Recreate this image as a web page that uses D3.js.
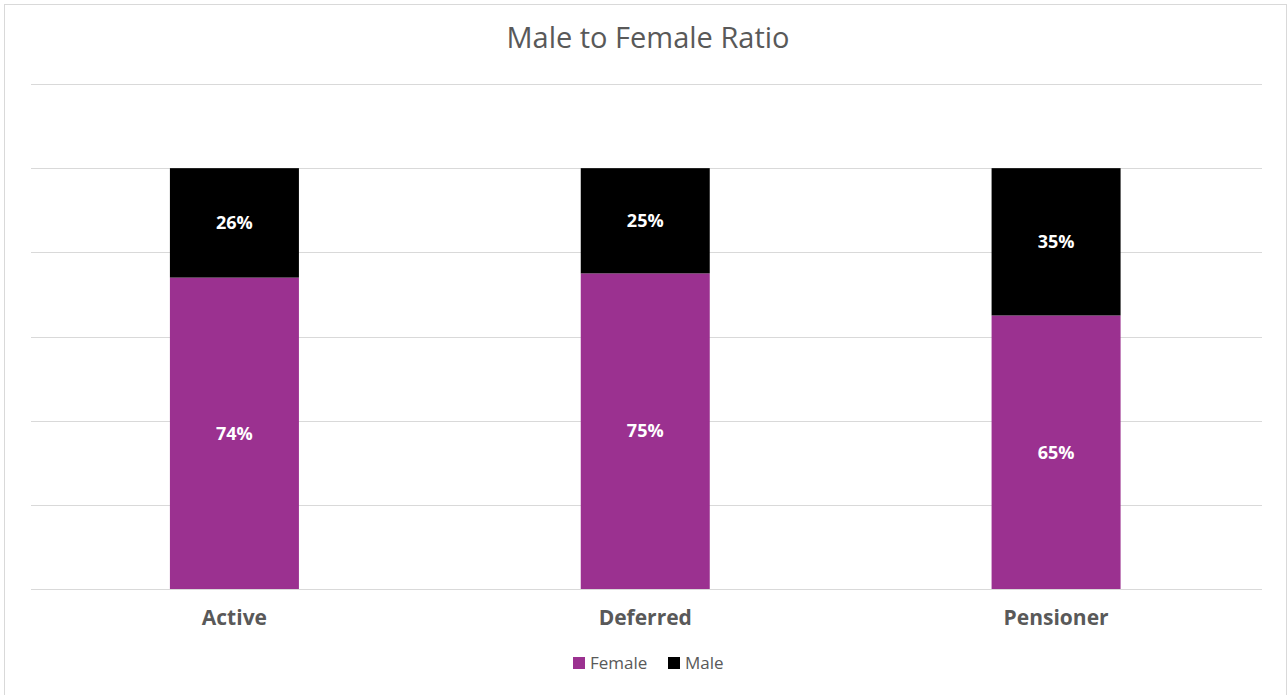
<!DOCTYPE html>
<html lang="en">
<head>
<meta charset="UTF-8">
<title>Male to Female Ratio</title>
<script src="https://cdn.jsdelivr.net/npm/d3@7"></script>
<style>
  body { margin: 0; background: #fff; font-family: "Open Sans", "Noto Sans", sans-serif; }
</style>
</head>
<body>
<div id="chart"></div>
<script>
const categories = ["Active", "Deferred", "Pensioner"];
const female = [0.74, 0.75, 0.65];
const male = [0.26, 0.25, 0.35];
const seriesNames = ["Female", "Male"];
const yTicks = [0, 0.2, 0.4, 0.6, 0.8, 1.0, 1.2];

const width = 1288, height = 695;
const margin = {top: 84, right: 26, bottom: 106, left: 31};
const colors = {Female: "#9b3190", Male: "#000000"};

const svg = d3.select("#chart").append("svg")
    .attr("width", width)
    .attr("height", height);

// outer border
svg.append("rect")
    .attr("x", 4.5).attr("y", 4.5)
    .attr("width", width - 6).attr("height", height)
    .attr("fill", "#fff")
    .attr("stroke", "#d9d9d9");

const x = d3.scaleBand()
    .domain(categories)
    .range([29, 1261.5])
    .paddingInner(0.686)
    .paddingOuter(0.343);

const y = d3.scaleLinear()
    .domain([0, 1.2])
    .range([height - margin.bottom, margin.top]);

// gridlines
svg.append("g")
    .selectAll("line")
    .data(yTicks)
    .join("line")
    .attr("x1", margin.left)
    .attr("x2", width - margin.right)
    .attr("y1", d => Math.round(y(d)) + 0.5)
    .attr("y2", d => Math.round(y(d)) + 0.5)
    .attr("stroke", "#d9d9d9")
    .attr("stroke-width", 1);

// stack the data
const rows = categories.map((c, i) => ({cat: c, Female: female[i], Male: male[i]}));
const stacked = d3.stack().keys(seriesNames)(rows);

const layers = svg.append("g")
    .selectAll("g")
    .data(stacked)
    .join("g")
    .attr("fill", d => colors[d.key]);

layers.selectAll("rect")
    .data(d => d)
    .join("rect")
    .attr("x", d => x(d.data.cat))
    .attr("width", x.bandwidth())
    .attr("y", d => y(d[1]))
    .attr("height", d => y(d[0]) - y(d[1]));

// data labels
layers.selectAll("text")
    .data(d => d)
    .join("text")
    .attr("x", d => x(d.data.cat) + x.bandwidth() / 2)
    .attr("y", d => (y(d[0]) + y(d[1])) / 2)
    .attr("dy", "0.35em")
    .attr("text-anchor", "middle")
    .attr("fill", "#fff")
    .attr("font-size", 18)
    .attr("font-weight", "bold")
    .text(d => Math.round((d[1] - d[0]) * 100) + "%");

// x axis labels
const xAxis = svg.append("g")
    .attr("transform", `translate(0,${height - margin.bottom})`)
    .call(d3.axisBottom(x).tickSize(0).tickPadding(21));
xAxis.select(".domain").remove();
xAxis.selectAll("text")
    .attr("font-family", "Open Sans, Noto Sans, sans-serif")
    .attr("font-size", 21)
    .attr("font-weight", "bold")
    .attr("fill", "#595959");

// title
svg.append("text")
    .attr("x", 648)
    .attr("y", 48)
    .attr("text-anchor", "middle")
    .attr("font-size", 29)
    .attr("fill", "#595959")
    .text("Male to Female Ratio");

// legend
const legend = svg.append("g").attr("transform", "translate(573,663)");
const legendX = [0, 95];
seriesNames.forEach((s, i) => {
    legend.append("rect")
        .attr("x", legendX[i])
        .attr("y", -6)
        .attr("width", 12)
        .attr("height", 12)
        .attr("fill", colors[s]);
    legend.append("text")
        .attr("x", legendX[i] + 17)
        .attr("y", 0)
        .attr("dy", "0.35em")
        .attr("font-size", 17)
        .attr("fill", "#595959")
        .text(s);
});
</script>
</body>
</html>
